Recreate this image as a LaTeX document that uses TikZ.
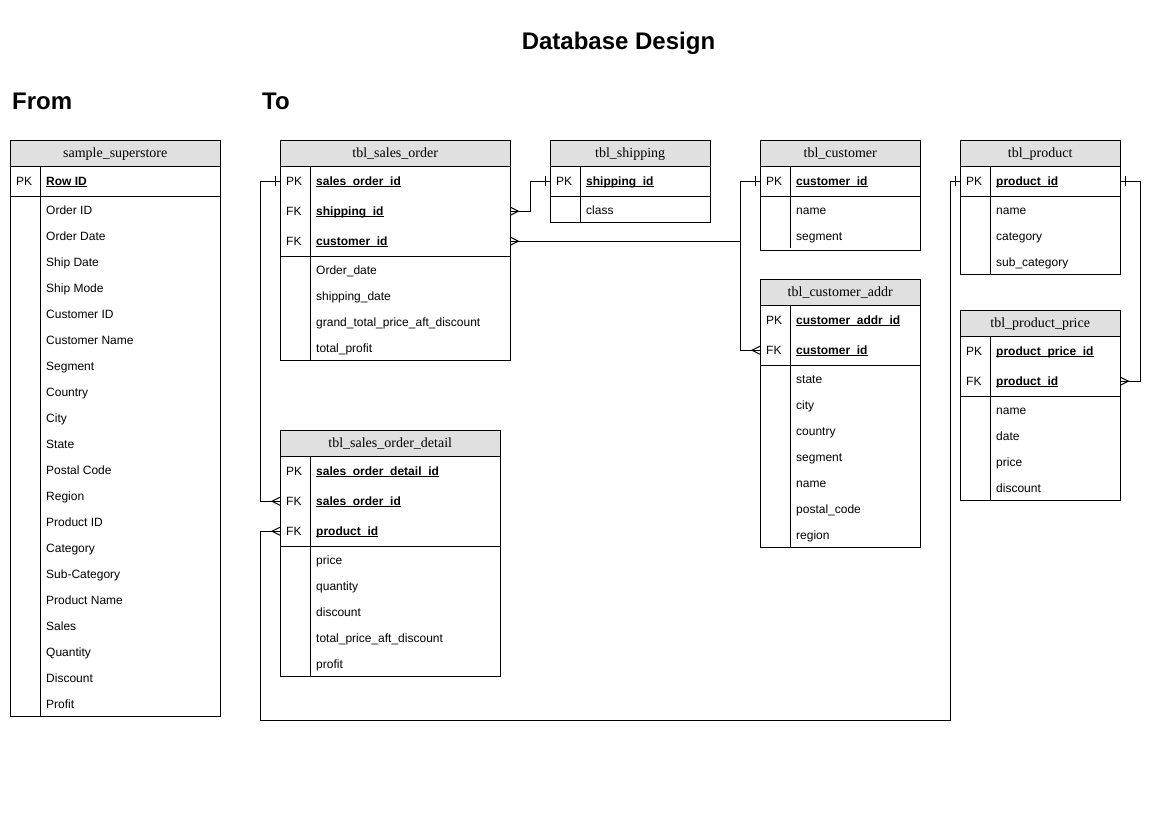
\documentclass[tikz,border=0pt]{standalone}
\usepackage{fontspec}
\setmainfont{Liberation Sans}
\newfontfamily\hdrfont{Liberation Serif}
\usetikzlibrary{calc}
\definecolor{hdrgray}{RGB}{224,224,224}
\newcommand\keyfld[1]{\setbox0\hbox{\bfseries #1}\rlap{\rule[-1.6pt]{\wd0}{0.8pt}}\box0}
\def\tbextra{0}
% #1 name, #2 x, #3 y, #4 width, #5 title, #6 nkeys, #7 keys, #8 nattrs, #9 attrs
\newcommand\ertable[9]{%
  \pgfmathsetmacro\yk{#3+26+30*#6}%
  \pgfmathsetmacro\yb{\yk+26*#8}%
  \node[hdr, minimum width=#4pt, anchor=north west] (#1) at (#2,#3) {#5};
  \draw[tbl] (#2,#3) rectangle (#2+#4,\yb+\tbextra);
  \draw[tbl] (#2,#3+26) -- (#2+#4,#3+26);
  \draw[tbl] (#2,\yk) -- (#2+#4,\yk);
  \draw[tbl] (#2+30,#3+26) -- (#2+30,\yb);
  \foreach \k/\f [count=\i] in {#7} {
    \node[krow, minimum width=#4pt, anchor=north west] (#1\i) at (#2,#3+26+30*\i-30) {};
    \node[txt] (#1k\i) at (#2+6,#3+26+30*\i-15+4.5) {\k};
    \node[txt] (#1f\i) at (#2+36,#3+26+30*\i-15+4.5) {\keyfld{\f}};
  }
  \foreach \a [count=\i] in {#9} {
    \node[txt] (#1a\i) at (#2+36,\yk+13+26*\i-26+5.5) {\a};
  }
}
\newcommand\oneE[1]{\draw[tbl] (#1) ++(5,-5) -- ++(0,10);}
\newcommand\oneW[1]{\draw[tbl] (#1) ++(-5,-5) -- ++(0,10);}
\newcommand\manyE[1]{\draw[tbl] (#1) ++(0,-4) -- ++(8,4) -- ++(-8,4);}
\newcommand\manyW[1]{\draw[tbl] (#1) ++(0,-4) -- ++(-8,4) -- ++(8,4);}
\begin{document}
\begin{tikzpicture}[x=1pt, y=-1pt,
  tbl/.style={draw=black, line width=1pt},
  hdr/.style={fill=hdrgray, inner sep=0pt, minimum height=26pt, text height=9pt, text depth=0pt, font=\hdrfont\fontsize{14}{16}\selectfont},
  krow/.style={inner sep=0pt, minimum height=30pt},
  txt/.style={anchor=base west, inner sep=0pt, font=\fontsize{12}{14}\selectfont},
  big/.style={inner sep=0pt, font=\bfseries\fontsize{24}{28}\selectfont}]
\useasboundingbox[fill=white] (0,0) rectangle (1169,827);

\node[big, anchor=base] (title) at (618.5,49.5) {Database Design};
\node[big, anchor=base west] (from) at (12,109.5) {From};
\node[big, anchor=base west] (to) at (262,109.5) {To};

\ertable{ss}{10}{140}{210}{sample\_superstore}{1}{PK/Row ID}{20}{Order ID, Order Date, Ship Date, Ship Mode, Customer ID, Customer Name, Segment, Country, City, State, Postal Code, Region, Product ID, Category, Sub-Category, Product Name, Sales, Quantity, Discount, Profit}
\ertable{so}{280}{140}{230}{tbl\_sales\_order}{3}{PK/sales\_order\_id, FK/shipping\_id, FK/customer\_id}{4}{Order\_date, shipping\_date, grand\_total\_price\_aft\_discount, total\_profit}
\ertable{sh}{550}{140}{160}{tbl\_shipping}{1}{PK/shipping\_id}{1}{class}
\def\tbextra{2}
\ertable{cu}{760}{140}{160}{tbl\_customer}{1}{PK/customer\_id}{2}{name, segment}
\def\tbextra{0}
\ertable{ca}{760}{279}{160}{tbl\_customer\_addr}{2}{PK/customer\_addr\_id, FK/customer\_id}{7}{state, city, country, segment, name, postal\_code, region}
\ertable{pr}{960}{140}{160}{tbl\_product}{1}{PK/product\_id}{3}{name, category, sub\_category}
\ertable{pp}{960}{310}{160}{tbl\_product\_price}{2}{PK/product\_price\_id, FK/product\_id}{4}{name, date, price, discount}
\ertable{sd}{280}{430}{220}{tbl\_sales\_order\_detail}{3}{PK/sales\_order\_detail\_id, FK/sales\_order\_id, FK/product\_id}{5}{price, quantity, discount, total\_price\_aft\_discount, profit}

% connectors
\coordinate (low) at (0,720);
\draw[tbl] (so2.east) -- ++(20,0) |- (sh1.west);
\manyE{so2.east} \oneW{sh1.west}
\draw[tbl] (so3.east) -| ([xshift=-20pt]cu1.west) -- (cu1.west);
\manyE{so3.east} \oneW{cu1.west}
\draw[tbl] (cu1.west) -- ++(-20,0) |- (ca2.west);
\manyW{ca2.west}
\draw[tbl] (so1.west) -- ++(-20,0) |- (sd2.west);
\oneW{so1.west} \manyW{sd2.west}
\draw[tbl] (pr1.west) -- ++(-10,0) |- ([xshift=-20pt]sd3.west |- low) -- ([xshift=-20pt]sd3.west) -- (sd3.west);
\oneW{pr1.west} \manyW{sd3.west}
\draw[tbl] (pr1.east) -- ++(20,0) |- (pp2.east);
\oneE{pr1.east} \manyE{pp2.east}
\end{tikzpicture}
\end{document}
